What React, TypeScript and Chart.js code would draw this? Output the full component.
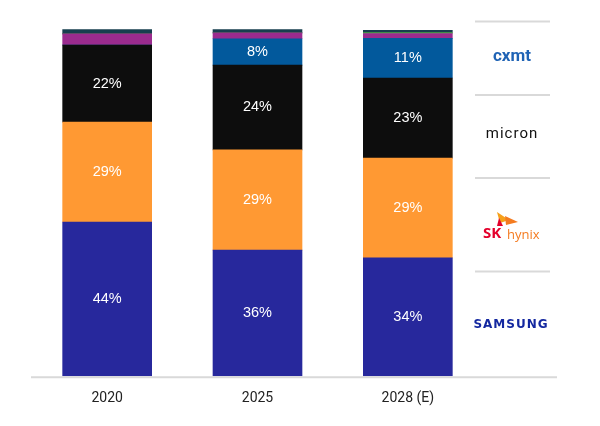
import React, { useEffect, useRef } from "react";
import { Chart, registerables } from "chart.js";

Chart.register(...registerables);

const categories = ["2020", "2025", "2028 (E)"];
const samsung = [44.4, 36.3, 34.1];
const skHynix = [28.8, 28.9, 28.7];
const micron = [22.2, 24.4, 23.1];
const cxmt = [0, 7.6, 11.4];
const otherPurple = [3.2, 1.7, 1.4];
const otherGreen = [0, 0, 0.3];
const otherTeal = [1.2, 0.95, 0.6];

const labelledSeries = ["Samsung", "SK hynix", "Micron", "CXMT"];

const segmentLabels = {
  id: "segmentLabels",
  afterDatasetsDraw(chart: any) {
    const ctx = chart.ctx;
    ctx.save();
    ctx.fillStyle = "#ffffff";
    ctx.font = "14.5px 'Liberation Sans', Arial, sans-serif";
    ctx.textAlign = "center";
    ctx.textBaseline = "middle";
    chart.data.datasets.forEach((ds: any, i: number) => {
      if (!labelledSeries.includes(ds.label)) return;
      const meta = chart.getDatasetMeta(i);
      meta.data.forEach((el: any, j: number) => {
        const v = ds.data[j];
        if (v < 5) return;
        ctx.fillText(Math.round(v) + "%", el.x, (el.y + el.base) / 2);
      });
    });
    ctx.restore();
  },
};

const sideLegend = {
  id: "sideLegend",
  afterDraw(chart: any) {
    const ctx = chart.ctx;
    const area = chart.chartArea;
    ctx.save();
    ctx.strokeStyle = "#d9d9d9";
    ctx.lineWidth = 2;
    ctx.beginPath();
    ctx.moveTo(31, area.bottom + 1);
    ctx.lineTo(557, area.bottom + 1);
    ctx.stroke();
    [21.5, 95, 178, 271.5].forEach((y) => {
      ctx.beginPath();
      ctx.moveTo(475, y);
      ctx.lineTo(550, y);
      ctx.stroke();
    });
    ctx.textAlign = "center";
    ctx.textBaseline = "middle";
    // CXMT
    ctx.fillStyle = "#1f63b5";
    ctx.font = "bold 17px Roboto, sans-serif";
    (ctx as any).letterSpacing = "0px";
    ctx.fillText("cxmt", 512, 57);
    // Micron
    ctx.fillStyle = "#111111";
    ctx.font = "15px Roboto, sans-serif";
    (ctx as any).letterSpacing = "1px";
    ctx.fillText("micron", 512, 134);
    // SK hynix
    (ctx as any).letterSpacing = "0px";
    ctx.textAlign = "left";
    ctx.fillStyle = "#e4002b";
    ctx.font = "bold 15px 'Open Sans', sans-serif";
    ctx.fillText("SK", 483, 234);
    ctx.fillStyle = "#f47b20";
    ctx.font = "13px 'Open Sans', sans-serif";
    ctx.fillText("hynix", 507, 235);
    ctx.fillStyle = "#f6a01a";
    ctx.beginPath();
    ctx.moveTo(497, 212);
    ctx.lineTo(509, 220);
    ctx.lineTo(500, 223);
    ctx.closePath();
    ctx.fill();
    ctx.fillStyle = "#f47b20";
    ctx.beginPath();
    ctx.moveTo(505, 216);
    ctx.lineTo(518, 222);
    ctx.lineTo(506, 225);
    ctx.closePath();
    ctx.fill();
    ctx.fillStyle = "#e4002b";
    ctx.beginPath();
    ctx.moveTo(499, 218);
    ctx.lineTo(503, 226);
    ctx.lineTo(497, 226);
    ctx.closePath();
    ctx.fill();
    // Samsung
    ctx.textAlign = "center";
    ctx.fillStyle = "#1428a0";
    ctx.font = "bold 12px 'DejaVu Sans', sans-serif";
    (ctx as any).letterSpacing = "1px";
    ctx.fillText("SAMSUNG", 511, 325);
    ctx.restore();
  },
};

export default function App() {
  const ref = useRef<HTMLCanvasElement | null>(null);
  useEffect(() => {
    document.body.style.margin = "0";
    if (!ref.current) return;
    const mk = (label: string, data: number[], color: string) => ({
      label,
      data,
      backgroundColor: color,
      borderWidth: 0,
      barThickness: 89,
    });
    const chart = new Chart(ref.current, {
      type: "bar",
      data: {
        labels: categories,
        datasets: [
          mk("Samsung", samsung, "#27289c"),
          mk("SK hynix", skHynix, "#ff9933"),
          mk("Micron", micron, "#0d0d0d"),
          mk("CXMT", cxmt, "#02599c"),
          mk("Other 1", otherPurple, "#9b2b8e"),
          mk("Other 2", otherGreen, "#3a9a3a"),
          mk("Other 3", otherTeal, "#173f4f"),
        ],
      },
      options: {
        animation: false,
        responsive: false,
        maintainAspectRatio: false,
        layout: { padding: { left: 32, right: 117, top: 29, bottom: 5 } },
        plugins: { legend: { display: false }, tooltip: { enabled: false } },
        scales: {
          x: {
            stacked: true,
            grid: { display: false, drawTicks: false },
            border: { display: false },
            ticks: {
              color: "#222222",
              padding: 14,
              font: { size: 14, family: "Roboto, sans-serif" },
            },
          },
          y: {
            stacked: true,
            display: false,
            min: 0,
            max: 100,
          },
        },
      },
      plugins: [segmentLabels, sideLegend],
    });
    return () => chart.destroy();
  }, []);
  return (
    <div style={{ position: "absolute", left: 0, top: 0, width: 600, height: 426, background: "#fff" }}>
      <canvas ref={ref} width={600} height={426} style={{ width: 600, height: 426 }} />
    </div>
  );
}
